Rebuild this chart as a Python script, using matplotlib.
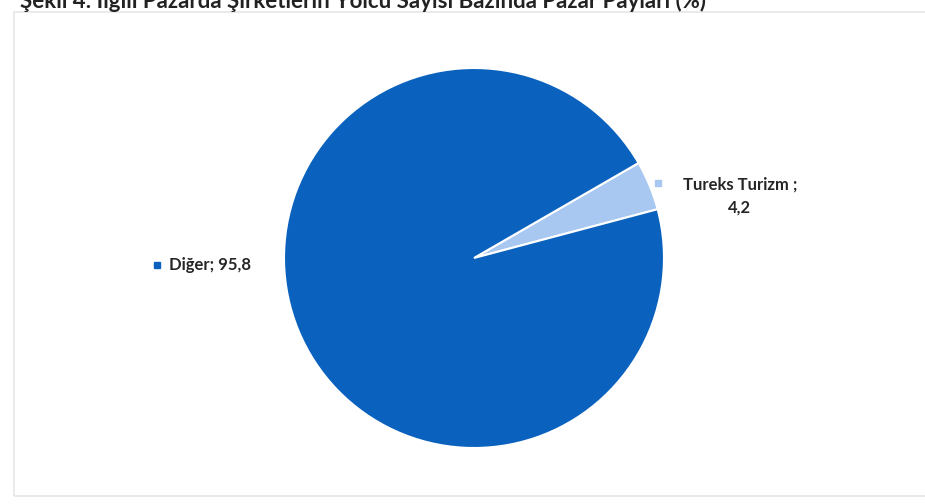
import matplotlib
matplotlib.use("Agg")
import matplotlib.pyplot as plt
from matplotlib.patches import Rectangle

labels = ["Tureks Turizm", "Diğer"]
values = [4.2, 95.8]
colors = ["#A8C8F2", "#0A62BE"]
title = "Şekil 4: İlgili Pazarda Şirketlerin Yolcu Sayısı Bazında Pazar Payları (%)"

plt.rcParams['font.family'] = ['Lato', 'DejaVu Sans']

W, H = 925, 504
fig = plt.figure(figsize=(W / 100, H / 100), dpi=100)
fig.patch.set_facecolor("white")
ax = fig.add_axes([0, 0, 1, 1])

ax.pie(values, colors=colors, startangle=30, counterclock=False,
       center=(474, H - 258), radius=190,
       wedgeprops=dict(edgecolor="white", linewidth=1.5))
ax.set_xlim(0, W)
ax.set_ylim(0, H)
ax.set_aspect('equal')
ax.axis('off')

# faint chart frame
ax.add_patch(Rectangle((14, H - 496), 1000, 484, fill=False,
                       edgecolor="#e6e6e6", linewidth=1.2, clip_on=False))

# data labels with legend keys
ax.add_patch(Rectangle((154, H - 268), 6, 6, color=colors[1]))
ax.text(169, H - 265, f"Diğer; {str(values[1]).replace('.', ',')}",
        fontsize=12, fontweight='bold', color="#262626", va='center', ha='left')

ax.add_patch(Rectangle((655, H - 186), 6, 6, color=colors[0]))
ax.text(740, H - 196, f"{labels[0]} ;\n{str(values[0]).replace('.', ',')}",
        fontsize=12, fontweight='bold', color="#262626", va='center', ha='center',
        linespacing=1.5)

# title (cut at top in the reference)
ax.text(20, H + 1, title, fontsize=16, fontweight='bold', color="#222222",
        va='center', ha='left', clip_on=False)

fig.savefig("out.png", dpi=100, facecolor="white")
